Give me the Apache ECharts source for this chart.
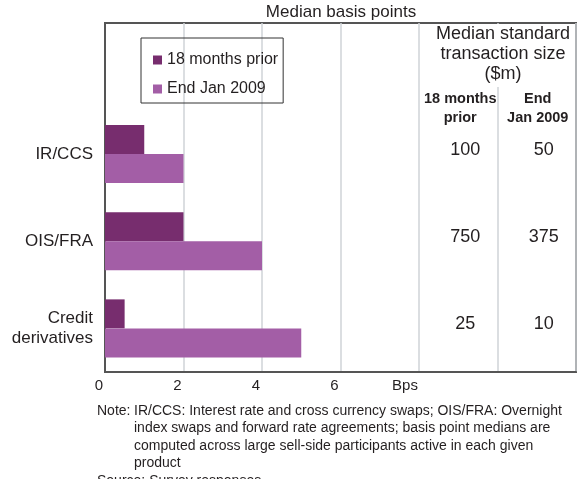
<!DOCTYPE html>
<html><head><meta charset="utf-8">
<script src="https://cdn.jsdelivr.net/npm/echarts@6/dist/echarts.min.js"></script>
<style>html,body{margin:0;padding:0;background:#fff}#c{width:579px;height:479px}</style>
</head><body><div id="c"></div>
<script>
// ---- data ----
const categories = ['', 'IR/CCS', 'OIS/FRA', 'Credit\nderivatives'];
const seriesNames = ['18 months prior', 'End Jan 2009'];
const prior18 = [null, 1, 2, 0.5];
const endJan2009 = [null, 2, 4, 5];
const sizePrior = [100, 750, 25];
const sizeEnd = [50, 375, 10];
const xTickLabels = [0, 2, 4, 6];
const unitLabel = 'Bps';
const tableHeader = ['Median standard', 'transaction size', '($m)'];
const colHeaders = ['18 months\nprior', 'End\nJan 2009'];
const titleText = 'Median basis points';
const noteBody = 'IR/CCS: Interest rate and cross currency swaps; OIS/FRA: Overnight\nindex swaps and forward rate agreements; basis point medians are\ncomputed across large sell-side participants active in each given\nproduct';
const sourceText = 'Source: Survey responses';

const FONT = 'Liberation Sans, Arial, Helvetica, sans-serif';
const TXT = '#231f20';
const chart = echarts.init(document.getElementById('c'), null, {renderer: 'canvas'});

const tableData = [];
categories.slice(1).forEach((c, i) => {
  tableData.push([9, c, sizePrior[i]]);
  tableData.push([11, c, sizeEnd[i]]);
});

chart.setOption({
  animation: false,
  textStyle: {fontFamily: FONT},
  grid: {left: 105, right: 1, top: 23, bottom: 107, show: true, borderColor: '#555', borderWidth: 2, containLabel: false},
  legend: {
    data: seriesNames, orient: 'vertical', left: 141, top: 38,
    borderColor: '#333', borderWidth: 1, padding: [14, 5, 6, 12],
    itemGap: 13, itemWidth: 9, itemHeight: 9, icon: 'rect',
    textStyle: {fontSize: 16, color: TXT, fontFamily: FONT}
  },
  xAxis: {
    type: 'value', min: 0, max: 12, interval: 2,
    axisLine: {show: true, lineStyle: {color: '#555', width: 2}},
    axisTick: {show: false},
    splitLine: {show: true, lineStyle: {color: '#cfd3d7', width: 1.5}},
    axisLabel: {
      margin: 6, color: TXT, fontSize: 15, fontFamily: FONT,
      formatter: v => xTickLabels.indexOf(v) >= 0 ? '{a|' + v + '}' : (v === 8 ? '{b|' + unitLabel + '}' : ''),
      rich: {
        a: {fontSize: 15, color: TXT, fontFamily: FONT, padding: [0, 12, 0, 0]},
        b: {fontSize: 15, color: TXT, fontFamily: FONT, padding: [0, 28, 4, 0]}
      }
    }
  },
  yAxis: {
    type: 'category', data: categories, inverse: true,
    axisLine: {show: true, lineStyle: {color: '#555', width: 2}},
    axisTick: {show: false},
    splitLine: {show: false},
    axisLabel: {margin: 12, color: TXT, fontSize: 17, lineHeight: 20, fontFamily: FONT}
  },
  series: [
    {name: seriesNames[0], type: 'bar', data: prior18, barWidth: 29, barGap: '0%', itemStyle: {color: '#772d6e'}},
    {name: seriesNames[1], type: 'bar', data: endJan2009, barWidth: 29, barGap: '0%', itemStyle: {color: '#a35ea6'}},
    {
      type: 'scatter', data: tableData, symbolSize: 0, silent: true,
      itemStyle: {opacity: 1, color: TXT},
      label: {show: true, position: 'inside', offset: [7, -4], formatter: p => String(p.value[2]),
        fontSize: 18, color: TXT, opacity: 1, fontFamily: FONT}
    }
  ]
});

const x8 = chart.convertToPixel({xAxisIndex: 0}, 8);
const x10 = chart.convertToPixel({xAxisIndex: 0}, 10);
const x12 = chart.convertToPixel({xAxisIndex: 0}, 12);
chart.setOption({
  graphic: [
    {type: 'rect', z: 5, shape: {x: x10 - 2, y: 24, width: 4, height: 63}, style: {fill: '#fff'}},
    {type: 'text', z: 10, style: {text: titleText, x: 341, y: 4, align: 'center', verticalAlign: 'top', font: '17px ' + FONT, fill: TXT}},
    {type: 'text', z: 10, style: {text: tableHeader.join('\n'), x: 503, y: 24, align: 'center', verticalAlign: 'top', font: '18px ' + FONT, lineHeight: 20, fill: TXT}},
    {type: 'text', z: 10, style: {text: colHeaders[0], x: (x8 + x10) / 2 + 2, y: 89, align: 'center', verticalAlign: 'top', font: 'bold 14.5px ' + FONT, lineHeight: 19, fill: TXT}},
    {type: 'text', z: 10, style: {text: colHeaders[1], x: (x10 + x12) / 2 + 1, y: 89, align: 'center', verticalAlign: 'top', font: 'bold 14.5px ' + FONT, lineHeight: 19, fill: TXT}},
    {type: 'text', z: 10, style: {text: 'Note:', x: 97, y: 402, align: 'left', verticalAlign: 'top', font: '14px ' + FONT, lineHeight: 17.6, fill: TXT}},
    {type: 'text', z: 10, style: {text: noteBody, x: 134, y: 402, align: 'left', verticalAlign: 'top', font: '14px ' + FONT, lineHeight: 17.6, fill: TXT}},
    {type: 'text', z: 10, style: {text: sourceText, x: 97, y: 472, align: 'left', verticalAlign: 'top', font: '14px ' + FONT, lineHeight: 17.6, fill: TXT}}
  ]
});
</script></body></html>
